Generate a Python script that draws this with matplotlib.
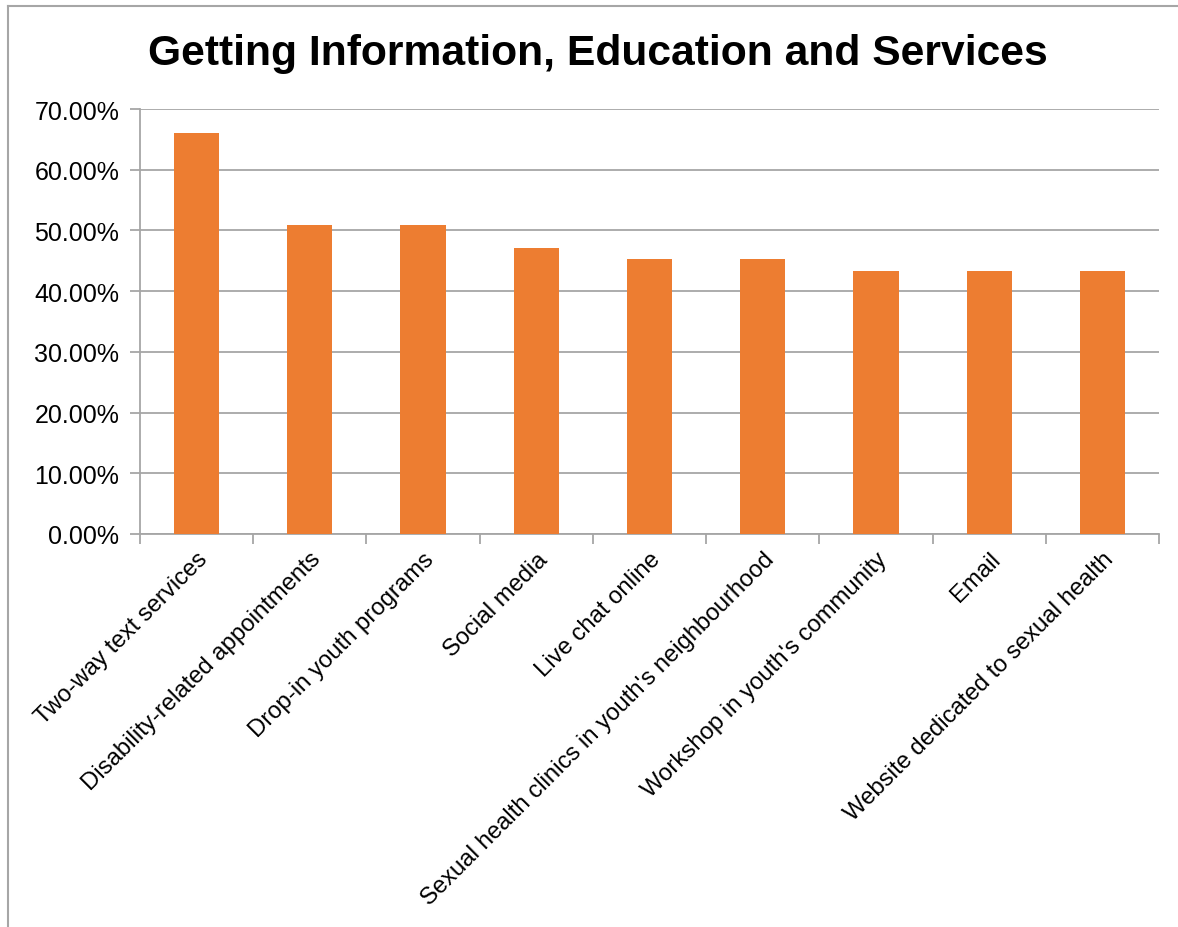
import matplotlib.pyplot as plt
from matplotlib.lines import Line2D
from matplotlib.ticker import FuncFormatter, MultipleLocator

plt.rcParams['font.family'] = ['Liberation Sans', 'DejaVu Sans']

categories = [
    'Two-way text services',
    'Disability-related appointments',
    'Drop-in youth programs',
    'Social media',
    'Live chat online',
    "Sexual health clinics in youth's neighbourhood",
    "Workshop in youth's community",
    'Email',
    'Website dedicated to sexual health',
]
values = [66.04, 50.94, 50.94, 47.17, 45.28, 45.28, 43.40, 43.40, 43.40]

grey = '#a6a6a6'

fig = plt.figure(figsize=(11.78, 9.28), dpi=100)
ax = fig.add_axes([140 / 1178, 1 - 535 / 928, 1019 / 1178, 425 / 928])

x = list(range(len(categories)))
ax.bar(x, values, width=0.4, color='#ed7d31', zorder=3)

ax.set_xlim(-0.5, len(categories) - 0.5)
ax.set_ylim(0, 70)
ax.yaxis.set_major_locator(MultipleLocator(10))
ax.yaxis.set_major_formatter(FuncFormatter(lambda v, p: f'{v:.2f}%'))
ax.grid(axis='y', color=grey, linewidth=1.3, zorder=0)

# category boundary ticks, Excel style
ax.set_xticks([i - 0.5 for i in range(len(categories) + 1)])
ax.set_xticklabels([])
ax.set_xticks(x, minor=True)
ax.set_xticklabels(categories, minor=True, rotation=45, ha='right', va='top',
                   rotation_mode='anchor', fontsize=17.2)
ax.tick_params(axis='x', which='minor', length=0, pad=10)
ax.tick_params(axis='x', which='major', length=7, color=grey, width=1.3)
ax.tick_params(axis='y', length=7, color=grey, width=1.3, labelsize=18, pad=8)

for s in ['top', 'right']:
    ax.spines[s].set_visible(False)
for s in ['left', 'bottom']:
    ax.spines[s].set_color(grey)
    ax.spines[s].set_linewidth(1.3)

fig.text(598 / 1178, 1 - 54 / 928, 'Getting Information, Education and Services',
         ha='center', va='center', fontsize=30.7, fontweight='bold')

# outer chart frame (top and left edges visible)
fig.add_artist(Line2D([8 / 1178, 8 / 1178], [0, 1 - 7 / 928], color=grey, linewidth=1.5))
fig.add_artist(Line2D([8 / 1178, 1], [1 - 7 / 928, 1 - 7 / 928], color=grey, linewidth=1.5))

fig.savefig('out.png', dpi=100)
